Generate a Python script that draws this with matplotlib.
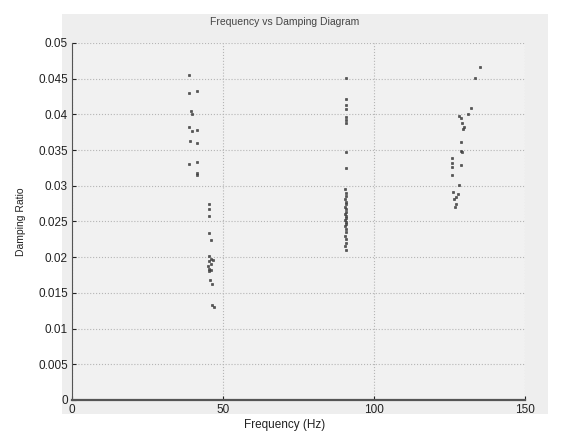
import matplotlib
matplotlib.use("Agg")
import matplotlib.pyplot as plt

# Mode cluster near 40-46 Hz
freq_a = [38.8, 38.8, 41.3, 39.3, 39.6, 38.8, 39.6, 41.3, 39.1, 41.3, 38.8, 41.3, 41.3, 41.3,
          45.4, 45.4, 45.4, 45.4, 46.0, 45.4, 46.0, 46.8, 45.4, 46.0, 45.1, 45.4, 46.0, 45.4,
          45.8, 46.2, 46.5, 46.9]
damp_a = [0.0455, 0.0430, 0.0433, 0.0405, 0.0401, 0.0382, 0.0377, 0.0378, 0.0363, 0.0360,
          0.0331, 0.0333, 0.0318, 0.0315,
          0.0275, 0.0268, 0.0258, 0.0234, 0.0224, 0.0202, 0.0198, 0.0196, 0.0194, 0.0190,
          0.0188, 0.0184, 0.0182, 0.0180, 0.0168, 0.0163, 0.0133, 0.0130]

# Mode cluster near 90 Hz
freq_b = [90.7, 90.6, 90.7, 90.6, 90.7, 90.6, 90.7, 90.7, 90.6,
          90.5, 90.6, 90.7, 90.5, 90.6, 90.7, 90.5, 90.6, 90.7, 90.5, 90.6, 90.7,
          90.5, 90.6, 90.7, 90.5, 90.6, 90.7, 90.5, 90.6, 90.7, 90.5, 90.6]
damp_b = [0.0451, 0.0421, 0.0413, 0.0407, 0.0396, 0.0392, 0.0388, 0.0348, 0.0325,
          0.0295, 0.0290, 0.0286, 0.0282, 0.0278, 0.0274, 0.0270, 0.0267, 0.0264, 0.0261,
          0.0258, 0.0255, 0.0252, 0.0249, 0.0246, 0.0243, 0.0240, 0.0235, 0.0230, 0.0225,
          0.0220, 0.0215, 0.0210]

# Mode cluster near 126-135 Hz
freq_c = [135.1, 133.6, 132.1, 131.0, 128.2, 128.8, 129.3, 129.9, 129.6, 128.8, 128.8, 129.3,
          125.8, 125.8, 125.8, 128.8, 125.8, 128.0, 126.0, 127.7, 127.1, 126.6, 127.1, 126.9]
damp_c = [0.0467, 0.0451, 0.0409, 0.0401, 0.0398, 0.0395, 0.0388, 0.0382, 0.0379, 0.0362,
          0.0349, 0.0348, 0.0339, 0.0332, 0.0327, 0.0329, 0.0315, 0.0301, 0.0292, 0.0289,
          0.0285, 0.0281, 0.0275, 0.0271]

x_ticks = [0, 50, 100, 150]
y_ticks = [0, 0.005, 0.01, 0.015, 0.02, 0.025, 0.03, 0.035, 0.04, 0.045, 0.05]
y_tick_labels = ["0", "0.005", "0.01", "0.015", "0.02", "0.025", "0.03", "0.035", "0.04", "0.045", "0.05"]

plt.rcParams['font.family'] = ['Liberation Sans', 'DejaVu Sans']

W, H = 565, 438
fig = plt.figure(figsize=(W / 100, H / 100), dpi=100)
fig.patch.set_facecolor("white")

# light gray backdrop panel behind the axes
bg = fig.add_axes([62 / W, 1 - 414 / H, (548 - 62) / W, (414 - 14) / H], zorder=-5)
bg.set_facecolor("#eeeeee")
bg.set_xticks([])
bg.set_yticks([])
for s in bg.spines.values():
    s.set_visible(False)

ax = fig.add_axes([72 / W, 1 - 400 / H, (525 - 72) / W, (400 - 43) / H], zorder=1)
ax.set_facecolor("#f1f1f1")

for f, d in ((freq_a, damp_a), (freq_b, damp_b), (freq_c, damp_c)):
    ax.plot(f, d, linestyle="none", marker="s", markersize=2.0,
            markerfacecolor="#555555", markeredgecolor="#333333", markeredgewidth=0.4)

ax.set_xlim(0, 150)
ax.set_ylim(0, 0.05)
ax.set_xticks(x_ticks)
ax.set_xticklabels([str(t) for t in x_ticks])
ax.set_yticks(y_ticks)
ax.set_yticklabels(y_tick_labels)
ax.tick_params(direction="in", length=3, labelsize=8.5, colors="#222222", pad=3)
ax.grid(True, linestyle=":", color="#b5b5b5", linewidth=0.8)

for s in ("top", "right"):
    ax.spines[s].set_visible(False)
ax.spines["left"].set_color("#555555")
ax.spines["bottom"].set_color("#555555")
ax.spines["bottom"].set_linewidth(1.6)

ax.set_title("Frequency vs Damping Diagram", fontsize=7.5, color="#444444", pad=13, x=0.47)
ax.set_xlabel("Frequency (Hz)", fontsize=8.5, color="#222222", labelpad=2, x=0.47)
ax.set_ylabel("Damping Ratio", fontsize=7.5, color="#222222", labelpad=9)

fig.savefig("out.png", dpi=100)
